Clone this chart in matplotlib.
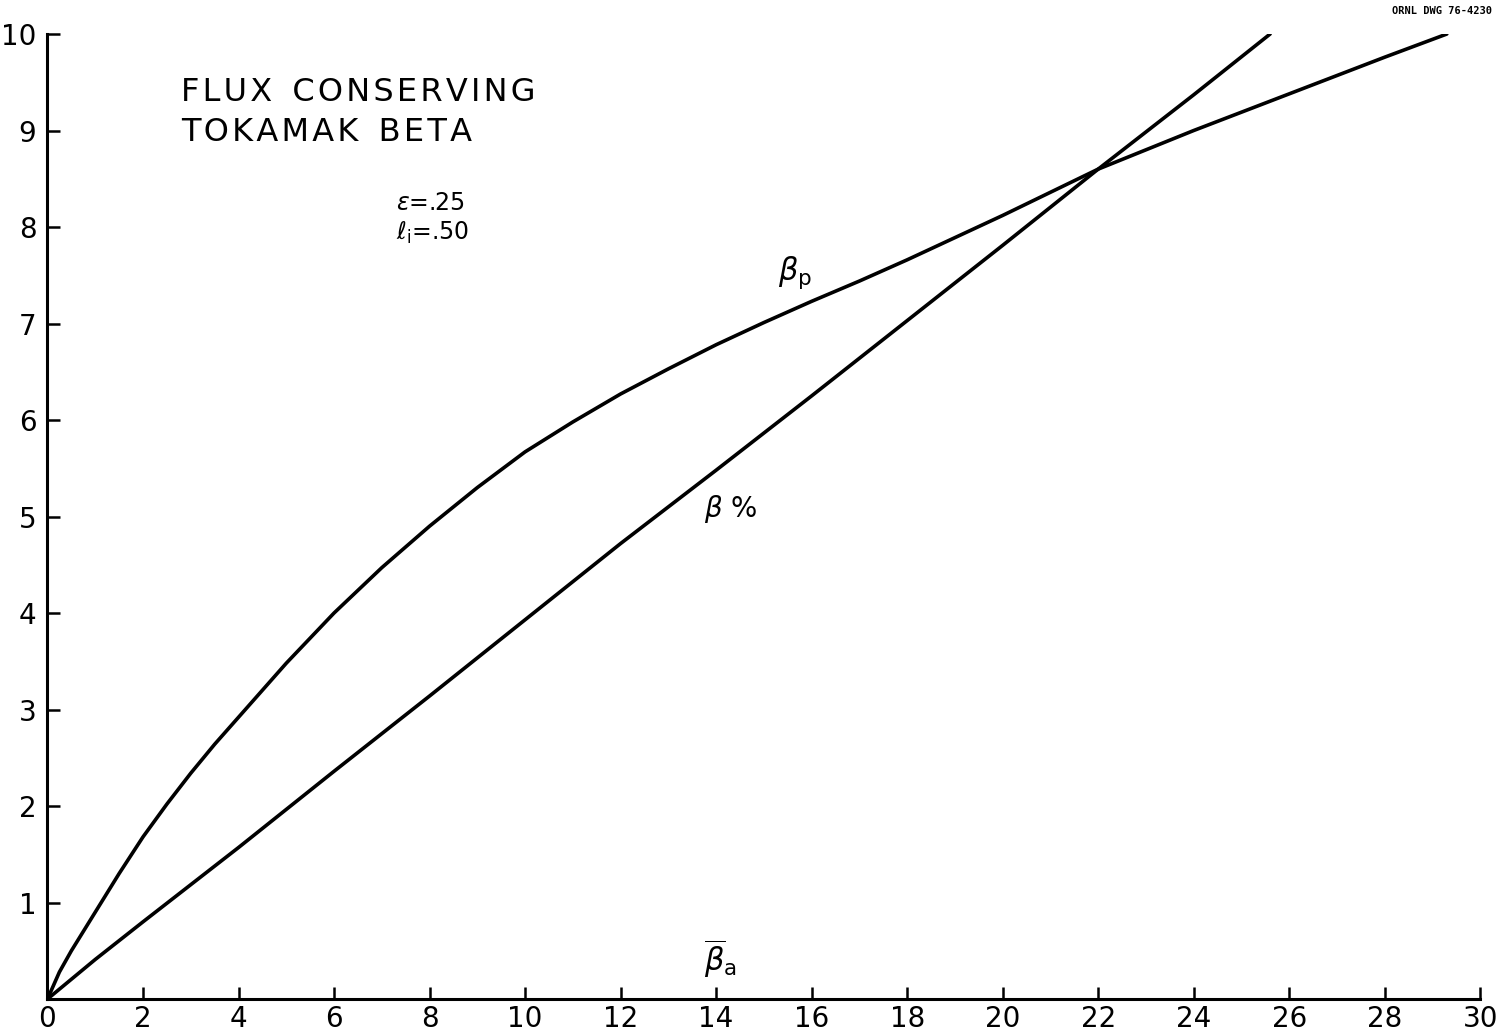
import matplotlib.pyplot as plt

# values
beta_a = [0, 0.25, 0.5, 0.75, 1, 1.5, 2, 2.5, 3, 3.5, 4, 5, 6, 7, 8, 9, 10, 11, 12,
          13, 14, 15, 16, 17, 18, 19, 20, 21, 22, 23, 24, 25, 26, 27, 28, 29.3]
beta_p = [0, 0.28, 0.5, 0.7, 0.9, 1.3, 1.68, 2.02, 2.34, 2.64, 2.92, 3.48, 4.0, 4.47,
          4.9, 5.3, 5.67, 5.98, 6.27, 6.53, 6.78, 7.01, 7.23, 7.44, 7.66, 7.89, 8.12,
          8.36, 8.6, 8.8, 9.0, 9.19, 9.38, 9.57, 9.76, 10.0]

beta_a2 = [0, 1, 2, 4, 6, 8, 10, 12, 14, 16, 18, 20, 22, 24, 25.6]
beta_pct = [0, 0.41, 0.8, 1.57, 2.36, 3.14, 3.93, 4.72, 5.48, 6.25, 7.03, 7.81, 8.6, 9.37, 10.0]

xticks = list(range(0, 31, 2))
yticks = list(range(1, 11))

plt.rcParams['font.family'] = ['DejaVu Sans']

fig = plt.figure(figsize=(15.12, 10.31), dpi=100)
ax = fig.add_axes([0.0314, 0.031, 0.9476, 0.936])

ax.plot(beta_a, beta_p, color='black', lw=2.6, solid_capstyle='round', solid_joinstyle='round')
ax.plot(beta_a2, beta_pct, color='black', lw=2.6, solid_capstyle='round', solid_joinstyle='round')

ax.set_xlim(0, 30)
ax.set_ylim(0, 10)
ax.set_xticks(xticks)
ax.set_xticklabels([str(t) for t in xticks])
ax.set_yticks(yticks)
ax.set_yticklabels([str(t) for t in yticks])
ax.tick_params(direction='in', length=9, width=1.8, labelsize=20, color='black')
ax.tick_params(axis='y', pad=8)
ax.tick_params(axis='x', pad=4)

for s in ['top', 'right']:
    ax.spines[s].set_visible(False)
for s in ['left', 'bottom']:
    ax.spines[s].set_linewidth(2.2)

# labels drawn on the plot
hs = '\u200a'
line1 = hs.join('FLUX') + '  ' + hs.join('CONSERVING')
line2 = hs.join('TOKAMAK') + '  ' + hs.join('BETA')
ax.text(2.8, 9.23, line1, fontsize=23, va='bottom', ha='left')
ax.text(2.8, 8.82, line2, fontsize=23, va='bottom', ha='left')
ax.text(7.3, 8.18, r'$\epsilon$=.25', fontsize=17, ha='left')
ax.text(7.3, 7.87, r'$\ell_{\rm i}$=.50', fontsize=17, ha='left')
ax.text(15.3, 7.45, r'$\beta_{\rm p}$', fontsize=22, ha='left')
ax.text(13.75, 5.0, r'$\beta$ %', fontsize=20, ha='left')
ax.text(13.75, 0.28, r'$\overline{\beta}_{\rm a}$', fontsize=22, ha='left')

fig.text(0.987, 0.994, 'ORNL DWG 76-4230', fontsize=7.5, ha='right', va='top',
         family='DejaVu Sans Mono', fontweight='bold')

fig.savefig('out.png', dpi=100)
